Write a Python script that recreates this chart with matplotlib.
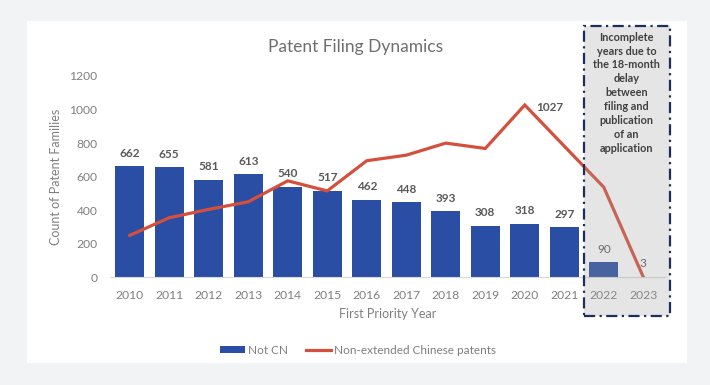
import numpy as np
import matplotlib.pyplot as plt
from matplotlib.patches import Rectangle
from matplotlib.lines import Line2D
from matplotlib.patches import Patch

years = ['2010', '2011', '2012', '2013', '2014', '2015', '2016',
         '2017', '2018', '2019', '2020', '2021', '2022', '2023']
not_cn = [662, 655, 581, 613, 540, 517, 462, 448, 393, 308, 318, 297, 90, 3]
chinese = [250, 355, 405, 450, 575, 515, 695, 728, 800, 768, 1027, 782, 537, 2]
box_text = "Incomplete\nyears due to\nthe 18-month\ndelay\nbetween\nfiling and\npublication\nof an\napplication"

plt.rcParams['font.family'] = ['Lato', 'DejaVu Sans']
grey = '#595959'
light = '#7F7F7F'
blue = '#2A4EA3'
red = '#D5503C'

fig = plt.figure(figsize=(7.1, 3.85), dpi=100)
fig.patch.set_facecolor('#F2F3F5')
# white panel
fig.patches.append(Rectangle((27/710, 1-363/385), 660/710, 342/385,
                             transform=fig.transFigure, facecolor='white',
                             edgecolor='none', zorder=-10))

ax = fig.add_axes([110/710, 107.7/385, 555/710, 201.3/385])
ax.set_facecolor('none')
x = np.arange(len(years))

ax.bar(x, not_cn, width=0.74, color=blue, zorder=2)
ax.plot(x, chinese, color=red, lw=2.3, zorder=3, solid_joinstyle='miter')

for i, v in enumerate(not_cn):
    if i < 12:
        ax.text(x[i], v + 45, str(v), ha='center', va='bottom', fontsize=8.5,
                fontweight='bold', color=grey)
    else:
        ax.text(x[i], v + 45, str(v), ha='center', va='bottom', fontsize=8.5,
                color=grey)
ax.text(x[10] + 0.3, chinese[10] - 15, str(chinese[10]), ha='left', va='center',
        fontsize=8.5, fontweight='bold', color=grey)

ax.set_xlim(-0.5, 13.55)
ax.set_ylim(0, 1200)
ax.set_yticks(range(0, 1201, 200))
ax.set_xticks(x)
ax.set_xticklabels(years)
ax.tick_params(axis='both', length=0, labelsize=8.7, colors=light)
ax.tick_params(axis='x', pad=9)
ax.tick_params(axis='y', pad=9)
for s in ['top', 'right', 'left']:
    ax.spines[s].set_visible(False)
ax.spines['bottom'].set_color('#D9D9D9')

ax.set_xlabel('First Priority Year', fontsize=9, color=light, labelpad=5)
ax.set_ylabel('Count of Patent Families', fontsize=9, color=light, labelpad=5)

# shaded box for incomplete years
ax.add_patch(Rectangle((11.5, -228), 2.17, 1727, facecolor='#9F9F9F', alpha=0.27,
                       edgecolor='none', clip_on=False, zorder=4))
ax.add_patch(Rectangle((11.5, -228), 2.17, 1727, facecolor='none',
                       edgecolor='#1F2D5A', lw=1.6, linestyle=(0, (5, 2, 1, 2)),
                       clip_on=False, zorder=5))
ax.text(12.58, 1465, box_text, ha='center', va='top', fontsize=7.8,
        fontweight='bold', color='#404040', linespacing=1.33, zorder=6)

fig.text(356/710, 1-47/385, 'Patent Filing Dynamics', ha='center', va='center',
         fontsize=12.5, color='#6E6E6E')

handles = [Patch(facecolor=blue, edgecolor='none'),
           Line2D([0], [0], color=red, lw=2.3)]
fig.legend(handles, ['Not CN', 'Non-extended Chinese patents'], loc='center',
           bbox_to_anchor=(358/710, 1-350/385), ncol=2, frameon=False,
           fontsize=8.5, handlelength=2.1, handleheight=0.6, columnspacing=1.5,
           handletextpad=0.25, labelcolor=light)

fig.savefig('out.png', dpi=100, facecolor=fig.get_facecolor())
